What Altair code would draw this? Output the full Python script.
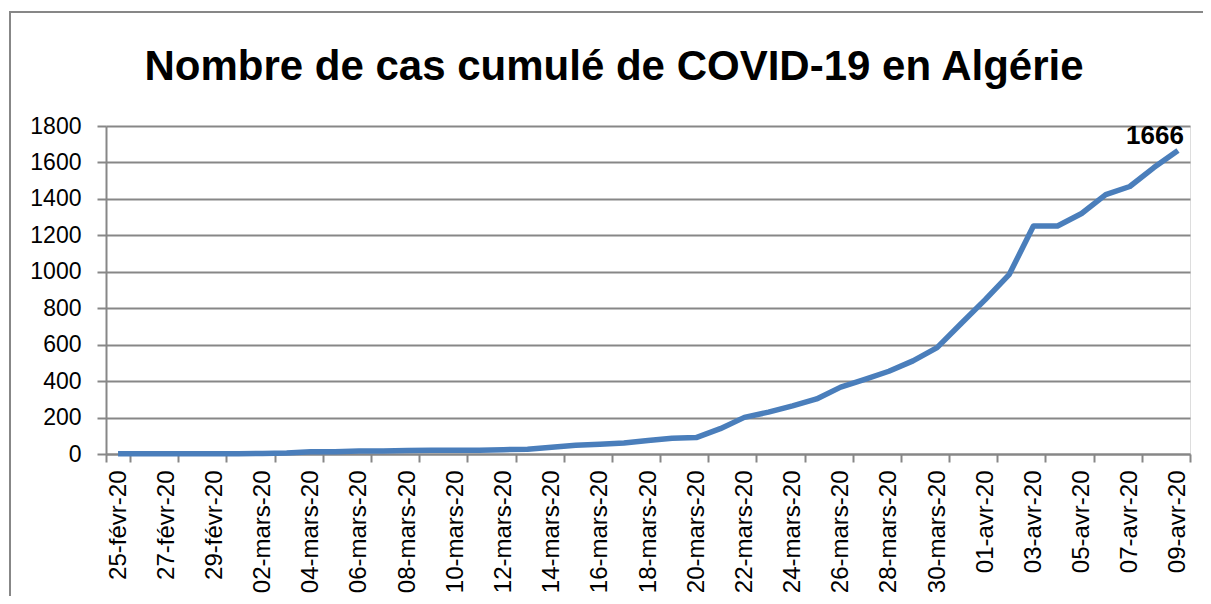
import altair as alt
import pandas as pd

# ---- data ----
dates = (
    [f"{d}-févr-20" for d in ["25", "26", "27", "28", "29"]]
    + [f"{d:02d}-mars-20" for d in range(1, 32)]
    + [f"{d:02d}-avr-20" for d in range(1, 10)]
)
cases = [
    1, 1, 1, 1, 1,
    1, 3, 5, 12, 12, 17, 17, 19, 20, 20, 20, 24, 26, 37, 48, 54, 60, 74, 87, 90,
    139, 201, 230, 264, 302, 367, 409, 454, 511, 584, 716,
    847, 986, 1251, 1251, 1320, 1423, 1468, 1572, 1666,
]
y_ticks = [0, 200, 400, 600, 800, 1000, 1200, 1400, 1600, 1800]
x_tick_labels = dates[::2]
title_text = "Nombre de cas cumulé de COVID-19 en Algérie"

df = pd.DataFrame({"date": dates, "cases": cases})

GRAY = "#878787"
BLUE = "#4A7EBB"
FONT = "Liberation Sans"
W, H = 1084, 328

x_enc = alt.X(
    "date:O",
    sort=dates,
    scale=alt.Scale(type="band", paddingInner=0, paddingOuter=0),
    axis=alt.Axis(
        values=x_tick_labels,
        tickBand="extent",
        labelAngle=270,
        labelAlign="right",
        labelBaseline="middle",
        labelFont=FONT,
        labelFontSize=24,
        labelColor="black",
        labelPadding=8,
        labelOverlap=False,
        tickSize=8,
        tickColor=GRAY,
        tickWidth=2,
        domainColor=GRAY,
        domainWidth=2,
        grid=False,
        title=None,
    ),
)
y_enc = alt.Y(
    "cases:Q",
    scale=alt.Scale(domain=[0, 1800], nice=False),
    axis=alt.Axis(
        values=y_ticks,
        format="d",
        grid=True,
        gridColor=GRAY,
        gridWidth=2,
        tickSize=9,
        tickColor=GRAY,
        tickWidth=2,
        domainColor=GRAY,
        domainWidth=2,
        labelFont=FONT,
        labelFontSize=23,
        labelColor="black",
        labelPadding=16,
        title=None,
    ),
)

base = alt.Chart(df)

line = base.mark_line(color=BLUE, strokeWidth=5.5, strokeJoin="round").encode(x=x_enc, y=y_enc)

last = base.transform_filter(alt.datum.date == dates[-1]).mark_text(
    font=FONT, fontSize=26, fontWeight="bold", color="black",
    align="center", baseline="alphabetic", dx=-23, dy=-6,
).encode(x=x_enc, y=y_enc, text=alt.Text("cases:Q"))

frame = alt.Chart(pd.DataFrame({"f": [0]})).mark_rect(
    fillOpacity=0, stroke=GRAY, strokeWidth=2
).encode(
    x=alt.value(-96), x2=alt.value(1300), y=alt.value(-114), y2=alt.value(700)
)

chart = (
    alt.layer(frame, line, last)
    .properties(
        width=W,
        height=H,
        title=alt.TitleParams(
            title_text, font=FONT, fontSize=42, fontWeight="bold", color="black",
            anchor="middle", frame="group", baseline="alphabetic", offset=-111, dx=-34,
        ),
        autosize=alt.AutoSizeParams(type="none"),
        padding={"left": 98, "top": 118, "right": 13, "bottom": 142},
    )
    .configure_view(strokeWidth=0)
    .configure(background="white")
)

chart.save("out.html", embed_options={"renderer": "svg", "actions": False})
